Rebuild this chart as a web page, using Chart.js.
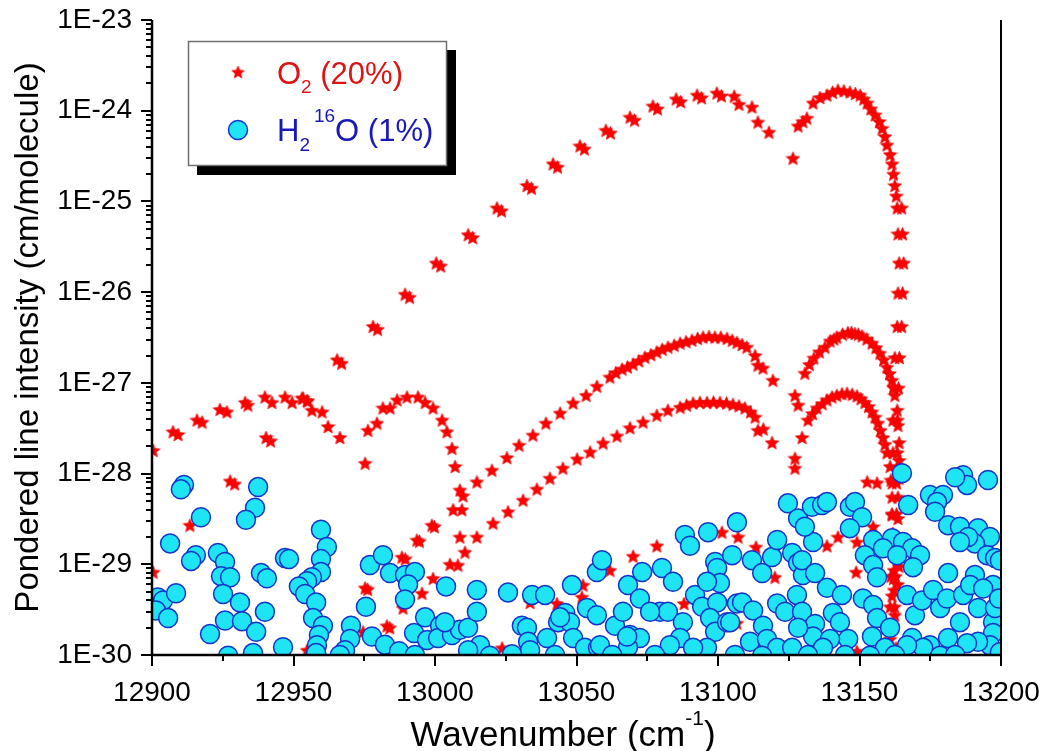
<!DOCTYPE html>
<html>
<head>
<meta charset="utf-8">
<script src="https://cdn.jsdelivr.net/npm/chart.js@4.4.1/dist/chart.umd.min.js"></script>
<style>
html,body{margin:0;padding:0;background:#fff;}
canvas{display:block;}
</style>
</head>
<body>
<canvas id="c" width="1042" height="751"></canvas>
<script>
// ---------------- DATA (wavenumber cm^-1, intensity cm/molecule) ----------------
const xMajorTicks = [12900, 12950, 13000, 13050, 13100, 13150, 13200];
const xMinorTicks = [12925, 12975, 13025, 13075, 13125, 13175];
const yDecades = [1e-30, 1e-29, 1e-28, 1e-27, 1e-26, 1e-25, 1e-24, 1e-23];
const yTickLabels = ['1E-30', '1E-29', '1E-28', '1E-27', '1E-26', '1E-25', '1E-24', '1E-23'];

// O2 main band, P branch
const o2MainP = [[12900.4,8.2e-30],[12913.4,2.7e-29],[12927.6,8.3e-29],[12929.2,7.7e-29],[12940.3,2.5e-28],[12941.9,2.3e-28],[12953.4,6.8e-28],[12955.0,6.3e-28],[12965.4,1.8e-27],[12967.0,1.65e-27],[12978.1,4.2e-27],[12979.7,3.9e-27],[12989.4,9.5e-27],[12991.0,8.8e-27],[13000.4,2.1e-26],[13002.0,1.95e-26],[13011.7,4.3e-26],[13013.3,4.0e-26],[13021.9,8.5e-26],[13023.5,7.9e-26],[13032.5,1.5e-25],[13034.1,1.4e-25],[13041.7,2.6e-25],[13043.3,2.4e-25],[13051.2,4.1e-25],[13052.8,3.8e-25],[13060.4,6.1e-25],[13062.0,5.7e-25],[13068.9,8.5e-25],[13070.5,7.9e-25],[13077.0,1.13e-24],[13078.6,1.05e-24],[13085.2,1.35e-24],[13086.8,1.26e-24],[13092.6,1.49e-24],[13094.2,1.39e-24],[13099.6,1.57e-24],[13101.2,1.46e-24],[13105.7,1.45e-24],[13107.4,1.18e-24],[13112.0,1.1e-24],[13114.1,7.5e-25],[13118.0,5.8e-25]];
// O2 main band, R branch
const o2MainR = [[13126.5,3.0e-25],[13128.3,6.8e-25],[13130.0,7.6e-25],[13131.4,8.3e-25],[13133.6,1.22e-24],[13136.0,1.4e-24],[13138.5,1.49e-24],[13140.5,1.6e-24],[13142.4,1.69e-24],[13144.5,1.66e-24],[13146.6,1.61e-24],[13148.5,1.55e-24],[13150.2,1.49e-24],[13151.5,1.35e-24],[13152.7,1.22e-24],[13154.0,1.05e-24],[13155.5,9.0e-25],[13157.0,7.6e-25],[13158.0,6.4e-25],[13159.0,5.2e-25],[13159.7,4.2e-25],[13160.8,3.3e-25],[13161.5,2.6e-25],[13162.0,2.0e-25],[13162.5,1.5e-25],[13163.0,1.15e-25],[13163.3,8.5e-26],[13164.9,8.5e-26],[13163.6,4.4e-26],[13165.2,4.4e-26],[13164.0,2.1e-26],[13165.6,2.1e-26],[13163.6,9.8e-27],[13165.2,9.8e-27],[13163.3,4.2e-27],[13164.9,4.2e-27],[13162.5,1.9e-27],[13164.1,1.9e-27],[13162.2,8.8e-28],[13163.8,8.8e-28],[13161.8,3.9e-28],[13163.4,3.9e-28],[13161.8,1.7e-28],[13163.4,1.7e-28],[13161.5,7.9e-29],[13163.1,7.9e-29],[13161.5,3.6e-29],[13163.1,3.6e-29],[13161.1,1.6e-29],[13162.7,1.6e-29],[13161.1,7.4e-30],[13162.7,7.4e-30],[13160.8,3.4e-30],[13162.4,3.4e-30],[13160.8,1.5e-30]];
// second series (P and R)
const o2SecondP = [[13009.9,5.7e-29],[13014.8,8.1e-29],[13020.1,1.09e-28],[13025.4,1.5e-28],[13029.7,2.06e-28],[13034.6,2.66e-28],[13039.2,3.6e-28],[13044.2,4.65e-28],[13048.8,6.0e-28],[13053.4,7.3e-28],[13057.2,9.2e-28],[13061.8,1.16e-27],[13063.9,1.3e-27],[13066.1,1.42e-27],[13068.0,1.5e-27],[13070.0,1.61e-27],[13072.0,1.75e-27],[13074.2,1.92e-27],[13076.3,2.05e-27],[13078.4,2.19e-27],[13080.3,2.35e-27],[13082.3,2.48e-27],[13084.5,2.6e-27],[13086.6,2.75e-27],[13088.7,2.85e-27],[13090.8,2.96e-27],[13092.8,3.1e-27],[13094.7,3.2e-27],[13096.8,3.25e-27],[13098.9,3.2e-27],[13101.0,3.2e-27],[13103.2,3.1e-27],[13105.0,2.95e-27],[13106.7,2.8e-27],[13108.5,2.65e-27],[13110.2,2.48e-27],[13113.1,2.0e-27],[13114.1,1.57e-27],[13115.9,1.46e-27],[13119.4,1.07e-27]];
const o2SecondR = [[13127.2,7.3e-28],[13128.3,5.7e-28],[13130.7,1.28e-27],[13132.3,1.6e-27],[13133.9,1.88e-27],[13135.8,2.2e-27],[13137.8,2.48e-27],[13139.6,2.9e-27],[13141.0,3.05e-27],[13142.0,3.2e-27],[13144.0,3.45e-27],[13145.9,3.6e-27],[13147.2,3.6e-27],[13148.4,3.5e-27],[13149.6,3.45e-27],[13150.9,3.3e-27],[13152.6,3.05e-27],[13154.4,2.75e-27],[13155.8,2.45e-27],[13157.2,2.13e-27],[13158.5,1.8e-27],[13159.7,1.49e-27],[13160.6,1.27e-27],[13161.5,1.07e-27],[13162.0,9.0e-28],[13162.5,7.3e-28],[13163.3,5.0e-28],[13163.6,3.4e-28],[13164.0,2.2e-28],[13164.0,1.4e-28],[13164.0,8.9e-29],[13163.6,5.5e-29],[13163.6,3.2e-29],[13163.3,1.85e-29]];
// third series (P and R)
const o2ThirdP = [[13010.6,1.36e-29],[13014.8,2.0e-29],[13020.5,2.84e-29],[13025.8,3.8e-29],[13031.1,5.1e-29],[13036.0,6.75e-29],[13040.6,8.9e-29],[13045.2,1.15e-28],[13050.2,1.45e-28],[13054.8,1.73e-28],[13059.4,2.17e-28],[13064.3,2.6e-28],[13068.9,3.2e-28],[13073.5,3.7e-28],[13078.4,4.4e-28],[13082.3,5.0e-28],[13086.6,5.4e-28],[13088.9,5.7e-28],[13091.2,6.0e-28],[13093.6,6.1e-28],[13096.1,6.1e-28],[13098.4,6.15e-28],[13100.7,6.1e-28],[13103.0,6.0e-28],[13105.3,5.8e-28],[13107.4,5.6e-28],[13109.5,5.3e-28],[13111.5,4.8e-28],[13113.1,4.2e-28],[13114.1,3.0e-28],[13116.0,3.1e-28],[13119.1,2.2e-28]];
const o2ThirdR = [[13127.2,1.48e-28],[13127.2,1.15e-28],[13129.7,2.5e-28],[13131.8,3.9e-28],[13133.4,4.6e-28],[13135.0,5.3e-28],[13136.8,5.9e-28],[13138.5,6.5e-28],[13140.3,7.0e-28],[13142.0,7.3e-28],[13143.8,7.6e-28],[13145.6,7.7e-28],[13147.4,7.5e-28],[13149.1,7.2e-28],[13150.5,6.7e-28],[13151.9,6.1e-28],[13153.2,5.5e-28],[13154.4,4.8e-28],[13155.5,4.2e-28],[13156.5,3.6e-28],[13157.4,3.0e-28],[13158.3,2.5e-28],[13159.0,2.1e-28],[13159.7,1.7e-28],[13160.8,1.2e-28],[13161.1,8.5e-29],[13161.5,5.5e-29],[13161.5,3.5e-29],[13161.8,2.2e-29],[13161.8,1.4e-29],[13162.2,8.6e-30],[13162.2,5.2e-30],[13162.5,2.75e-30],[13162.9,1.2e-30]];
// arcs at low wavenumber
const o2Arcs = [[12900.4,1.8e-28],[12907.4,2.9e-28],[12909.2,2.7e-28],[12915.9,3.9e-28],[12917.7,3.7e-28],[12924.0,5.1e-28],[12926.5,4.8e-28],[12932.9,6.1e-28],[12933.9,5.7e-28],[12939.9,7.0e-28],[12942.4,6.1e-28],[12947.0,7.0e-28],[12949.5,6.1e-28],[12953.0,6.8e-28],[12954.8,6.4e-28],[12956.5,5.0e-28],[12960.1,4.8e-28],[12962.2,3.3e-28],[12966.4,2.5e-28],[12975.3,1.3e-28],[12976.3,3.0e-28],[12979.5,3.6e-28],[12981.6,5.3e-28],[12984.1,5.3e-28],[12986.6,6.5e-28],[12990.1,7.0e-28],[12994.0,7.0e-28],[12996.5,6.1e-28],[12999.3,5.3e-28],[13002.5,3.9e-28],[13004.2,2.9e-28],[13006.0,1.9e-28],[13007.1,1.2e-28],[13008.8,6.6e-29],[13006.4,4.0e-29],[13009.5,4.0e-29],[13008.8,2.0e-29],[13005.3,1.0e-29],[13008.1,9.8e-30]];
// weak scattered O2 lines
const o2Weak = [[12954.8,1.13e-30],[12974.6,1.8e-30],[12975.3,5.5e-30],[12976.2,5.3e-30],[12983.0,2.1e-30],[12984.0,2.0e-30],[12988.3,1.2e-29],[12989.5,1.15e-29],[12988.7,3.3e-30],[12993.6,1.85e-29],[12994.5,1.8e-29],[12995.4,4.8e-30],[12998.9,2.7e-29],[12999.8,2.6e-29],[12999.3,7.0e-30],[13023.7,1.2e-30],[13033.6,3.8e-30],[13043.1,3.7e-30],[13051.9,4.35e-30],[13052.3,5.9e-30],[13061.8,8.6e-30],[13070.0,1.23e-29],[13078.4,1.6e-29],[13088.0,3.7e-30],[13101.4,2.26e-29],[13107.1,2.0e-29],[13106.7,2.25e-30],[13113.4,1.55e-29],[13120.1,7.2e-30],[13138.5,1.6e-29],[13142.4,2.0e-29],[13149.1,1.76e-29],[13154.8,2.6e-29],[13148.8,8.2e-30],[13164.3,1.07e-30],[13149.1,1.1e-30],[13152.7,8.1e-29],[13156.2,7.9e-29],[13162.0,7.0e-30],[13163.5,6.0e-30],[13161.5,4.5e-30],[13164.0,9.5e-30]];

// H2 16O lines
const h2oLow = [[12911.3,7.5e-29],[12910.2,6.7e-29],[12937.5,7.1e-29],[12936.4,4.2e-29],[12933.2,3.1e-29],[12917.3,3.3e-29],[12906.4,1.7e-29],[12915.5,1.26e-29],[12913.8,1.09e-29],[12923.3,1.33e-29],[12925.8,1.06e-29],[12924.4,7.4e-30],[12927.6,7.2e-30],[12947.0,1.17e-29],[12948.4,1.14e-29],[12959.7,2.4e-29],[12961.8,1.55e-29],[12959.7,1.14e-29],[12959.7,8.2e-30],[12956.5,7.2e-30],[12954.8,6.5e-30],[12951.9,5.7e-30],[12954.1,4.7e-30],[12958.0,3.8e-30],[12956.9,2.55e-30],[12960.4,2.1e-30],[12959.0,1.66e-30],[12958.3,1.28e-30],[12958.0,1.05e-30],[12938.5,8.0e-30],[12940.6,7.0e-30],[12902.1,4.3e-30],[12903.9,4.0e-30],[12908.5,4.8e-30],[12901.4,3.1e-30],[12905.7,2.55e-30],[12925.1,4.7e-30],[12931.1,3.8e-30],[12925.8,2.4e-30],[12931.8,2.36e-30],[12920.5,1.7e-30],[12936.8,1.8e-30],[12939.9,3.0e-30],[12935.7,1.05e-30],[12946.3,1.22e-30],[12970.3,2.1e-30],[12970.0,1.5e-30],[12968.2,1.13e-30],[12977.0,9.8e-30],[12981.6,1.26e-29],[12984.1,8.0e-30],[12989.4,7.6e-30],[12992.9,8.2e-30],[12990.5,6.0e-30],[12989.4,4.1e-30],[12975.6,3.4e-30],[12977.7,1.6e-30],[12982.3,1.3e-30],[12987.3,1.1e-30],[12992.6,1.75e-30],[12996.5,2.6e-30],[12997.2,1.46e-30],[12926.9,9.8e-31],[12966.4,1.0e-30],[12992.9,1.0e-30]];
const h2oMid = [[13001.8,2.1e-30],[13001.1,1.54e-30],[13003.9,5.7e-30],[13006.0,1.66e-30],[13008.8,1.9e-30],[13003.5,2.3e-30],[13011.7,2.0e-30],[13014.8,3.0e-30],[13014.8,5.2e-30],[13015.9,1.28e-30],[13011.7,1.13e-30],[13025.8,4.9e-30],[13034.3,4.6e-30],[13038.9,4.6e-30],[13030.7,2.1e-30],[13032.5,2.0e-30],[13032.9,1.4e-30],[13033.6,1.13e-30],[13039.6,1.54e-30],[13043.5,2.3e-30],[13046.0,2.9e-30],[13047.7,2.3e-30],[13048.8,1.54e-30],[13053.0,1.2e-30],[13048.4,5.9e-30],[13053.7,3.3e-30],[13057.2,2.75e-30],[13057.2,8.2e-30],[13059.0,1.11e-29],[13057.6,1.2e-30],[13063.6,2.1e-30],[13066.4,3.0e-30],[13068.2,5.9e-30],[13073.2,8.2e-30],[13072.4,4.2e-30],[13068.9,1.66e-30],[13072.4,1.54e-30],[13068.2,1.22e-30],[13080.2,9.1e-30],[13084.1,6.4e-30],[13079.5,3.0e-30],[13082.3,3.0e-30],[13087.6,2.3e-30],[13086.6,1.54e-30],[13083.0,1.28e-30],[13088.3,2.1e-29],[13090.1,1.6e-29],[13096.5,2.26e-29],[13091.9,4.6e-30],[13094.4,3.4e-30],[13099.0,1.06e-29],[13099.7,9.1e-30],[13100.7,6.2e-30],[13099.7,3.8e-30],[13096.1,6.4e-30],[13097.2,2.55e-30],[13099.0,1.8e-30],[13103.2,2.3e-30],[13105.0,1.26e-29],[13106.7,2.9e-29],[13106.7,3.7e-30],[13096.1,1.2e-30],[13091.2,1.2e-30],[13044.2,2.6e-30],[13058.3,1.28e-30],[13067.9,1.6e-30],[13076.0,3.0e-30],[13112.0,1.11e-29],[13019.4,9.8e-31],[13027.2,1.02e-30],[13042.4,1.0e-30],[13062.6,1.0e-30],[13077.7,1.0e-30],[13106.0,1.0e-30]];
const h2oHigh = [[13165.0,1.01e-28],[13167.2,4.5e-29],[13124.7,4.7e-29],[13128.3,3.2e-29],[13133.2,4.3e-29],[13136.8,4.5e-29],[13138.5,4.85e-29],[13146.6,4.3e-29],[13148.4,4.85e-29],[13150.9,3.3e-29],[13146.6,2.5e-29],[13115.6,8.0e-30],[13119.1,1.2e-29],[13120.9,1.85e-29],[13126.2,1.33e-29],[13128.3,1.03e-29],[13130.0,7.6e-30],[13129.7,1.11e-29],[13133.6,1.76e-29],[13134.3,8.0e-30],[13130.7,2.6e-29],[13154.8,1.85e-29],[13161.5,1.94e-29],[13158.3,1.5e-29],[13165.4,1.76e-29],[13168.6,1.5e-29],[13171.4,1.26e-29],[13168.9,9.3e-30],[13163.3,1.26e-29],[13151.9,1.26e-29],[13154.8,9.8e-30],[13156.2,7.2e-30],[13174.9,5.8e-29],[13179.5,5.8e-29],[13181.3,2.7e-29],[13185.5,2.6e-29],[13186.6,9.6e-29],[13188.0,7.5e-29],[13183.8,9.1e-29],[13195.4,8.5e-29],[13177.4,4.85e-29],[13176.7,3.8e-29],[13191.9,2.5e-29],[13196.1,2.0e-29],[13190.8,1.7e-29],[13195.1,1.26e-29],[13197.9,1.17e-29],[13188.4,2.0e-29],[13185.5,1.76e-29],[13181.3,8.0e-30],[13190.8,7.6e-30],[13197.2,5.9e-30],[13108.5,3.8e-30],[13112.4,3.1e-30],[13115.9,2.1e-30],[13120.9,3.7e-30],[13123.7,3.0e-30],[13127.9,4.6e-30],[13129.7,3.0e-30],[13134.3,2.2e-30],[13133.6,1.6e-30],[13138.5,5.5e-30],[13143.8,4.6e-30],[13140.6,2.9e-30],[13143.1,2.3e-30],[13146.0,1.5e-30],[13139.6,1.5e-30],[13151.2,4.2e-30],[13154.8,3.55e-30],[13156.2,2.55e-30],[13154.4,1.6e-30],[13159.0,1.2e-30],[13160.8,2.0e-30],[13166.8,4.6e-30],[13168.6,1.54e-30],[13169.6,2.75e-30],[13172.1,4.0e-30],[13176.0,5.2e-30],[13178.5,3.3e-30],[13180.9,4.2e-30],[13181.3,1.54e-30],[13174.9,1.28e-30],[13185.5,2.3e-30],[13186.6,4.6e-30],[13189.1,5.9e-30],[13191.9,3.3e-30],[13193.7,5.4e-30],[13197.2,2.3e-30],[13197.2,1.75e-30],[13197.9,3.3e-30],[13196.1,1.28e-30],[13191.9,1.4e-30],[13188.0,1.35e-30],[13172.5,1.2e-30],[13166.8,1.28e-30],[13104.3,2.3e-30],[13111.3,1.4e-30],[13117.3,1.5e-30],[13120.9,1.2e-30],[13126.2,1.2e-30],[13128.3,2.0e-30],[13137.1,1.2e-30],[13115.6,9.8e-31],[13131.8,1.0e-30],[13144.9,1.0e-30],[13153.7,9.8e-31],[13162.5,1.0e-30],[13178.5,9.8e-31],[13183.8,1.0e-30],[13199.6,1.07e-30],[13199.3,4.2e-30],[13199.6,1.1e-29]];

// ---------------- STYLE ----------------
const TICK_FONT = '"Liberation Sans Narrow", "Arial Narrow", "Liberation Sans", Arial, sans-serif';
const TEXT_FONT = '"Liberation Sans", Arial, Helvetica, sans-serif';
const STAR_RED = '#ff0000';
const CYAN = '#1ee4f4';
const CIRCLE_EDGE = '#1434c8';

function makeStar(size, color) {
  const c = document.createElement('canvas');
  c.width = size; c.height = size;
  const g = c.getContext('2d');
  const cx = size / 2, cy = size / 2 + 0.7, R = size / 2 - 0.3, r = R * 0.45;
  g.beginPath();
  for (let i = 0; i < 10; i++) {
    const a = -Math.PI / 2 + i * Math.PI / 5;
    const rad = (i % 2 === 0) ? R : r;
    g.lineTo(cx + rad * Math.cos(a), cy + rad * Math.sin(a));
  }
  g.closePath();
  g.fillStyle = color;
  g.fill();
  g.strokeStyle = '#e00000';
  g.lineWidth = 0.6;
  g.stroke();
  return c;
}
const starImg = makeStar(15, STAR_RED);

const toPts = arr => arr.map(p => ({x: p[0], y: p[1]}));
const o2Data = [].concat(toPts(o2MainP), toPts(o2MainR), toPts(o2SecondP), toPts(o2SecondR),
                         toPts(o2ThirdP), toPts(o2ThirdR), toPts(o2Arcs), toPts(o2Weak));
const h2oData = [].concat(toPts(h2oLow), toPts(h2oMid), toPts(h2oHigh));

function drawRich(ctx, x, y, parts, color) {
  ctx.fillStyle = color;
  ctx.textAlign = 'left';
  ctx.textBaseline = 'alphabetic';
  let cx = x;
  for (const p of parts) {
    ctx.font = p.size + 'px ' + TEXT_FONT;
    ctx.fillText(p.t, cx, y + (p.dy || 0));
    cx += ctx.measureText(p.t).width + (p.gap || 0);
  }
  return cx - x;
}
function richWidth(ctx, parts) {
  let w = 0;
  for (const p of parts) { ctx.font = p.size + 'px ' + TEXT_FONT; w += ctx.measureText(p.t).width + (p.gap || 0); }
  return w;
}

const decorPlugin = {
  id: 'decor',
  afterDraw(chart) {
    const ctx = chart.ctx;
    const a = chart.chartArea;
    const xs = chart.scales.x, ys = chart.scales.y;
    ctx.save();
    // axis lines
    ctx.strokeStyle = '#000';
    ctx.lineCap = 'butt';
    ctx.lineWidth = 2.5;
    ctx.beginPath();
    ctx.moveTo(a.left, a.top); ctx.lineTo(a.left, a.bottom + 1.25);
    ctx.moveTo(a.left - 1.25, a.bottom); ctx.lineTo(a.right + 1, a.bottom);
    ctx.stroke();
    ctx.lineWidth = 2;
    ctx.beginPath();
    ctx.moveTo(a.right, a.top); ctx.lineTo(a.right, a.bottom);
    ctx.stroke();
    // tick marks
    ctx.lineWidth = 2;
    ctx.beginPath();
    for (const v of xMajorTicks) { const px = Math.round(xs.getPixelForValue(v)); ctx.moveTo(px, a.bottom); ctx.lineTo(px, a.bottom + 11); }
    for (const v of xMinorTicks) { const px = Math.round(xs.getPixelForValue(v)); ctx.moveTo(px, a.bottom); ctx.lineTo(px, a.bottom + 6); }
    for (const d of yDecades) {
      const py = Math.round(ys.getPixelForValue(d));
      ctx.moveTo(a.left, py); ctx.lineTo(a.left - 11, py);
      if (d < 1e-23) {
        for (let k = 2; k <= 9; k++) {
          const pm = Math.round(ys.getPixelForValue(d * k));
          ctx.moveTo(a.left, pm); ctx.lineTo(a.left - 6, pm);
        }
      }
    }
    ctx.stroke();

    // legend box
    const bx = 188, by = 41, bw = 259, bh = 125;
    ctx.fillStyle = '#000';
    ctx.fillRect(bx + 9, by + 9, bw, bh);
    ctx.fillStyle = '#fff';
    ctx.fillRect(bx, by, bw, bh);
    ctx.strokeStyle = '#707070';
    ctx.lineWidth = 1.5;
    ctx.strokeRect(bx + 0.5, by + 0.5, bw - 1, bh - 1);
    // legend markers
    ctx.drawImage(starImg, 238 - 7, 72 - 7, 14, 14);
    ctx.beginPath();
    ctx.arc(238, 130, 9.5, 0, Math.PI * 2);
    ctx.fillStyle = CYAN; ctx.fill();
    ctx.strokeStyle = CIRCLE_EDGE; ctx.lineWidth = 1.5; ctx.stroke();
    // legend texts
    drawRich(ctx, 277, 84, [
      {t: 'O', size: 31}, {t: '2', size: 19, dy: 9}, {t: ' (20%)', size: 31}
    ], '#dd1414');
    drawRich(ctx, 277, 141, [
      {t: 'H', size: 31}, {t: '2', size: 19, dy: 10, gap: 4}, {t: '16', size: 19, dy: -19}, {t: 'O (1%)', size: 31}
    ], '#1818b8');

    // axis titles
    const xParts = [{t: 'Wavenumber (cm', size: 35}, {t: '-1', size: 21, dy: -21}, {t: ')', size: 35}];
    const w = richWidth(ctx, xParts);
    drawRich(ctx, 563 - w / 2, 746, xParts, '#000');

    ctx.translate(38, (a.top + a.bottom) / 2);
    ctx.rotate(-Math.PI / 2);
    ctx.font = '33px ' + TEXT_FONT;
    ctx.fillStyle = '#000';
    ctx.textAlign = 'center';
    ctx.textBaseline = 'alphabetic';
    ctx.fillText('Pondered line intensity (cm/molecule)', 0, 0);
    ctx.restore();
  }
};

new Chart(document.getElementById('c'), {
  type: 'scatter',
  data: {
    datasets: [
      {
        label: 'H2 16O (1%)',
        data: h2oData,
        pointStyle: 'circle',
        pointRadius: 9.5,
        backgroundColor: CYAN,
        borderColor: CIRCLE_EDGE,
        borderWidth: 1.5,
        showLine: false,
        clip: 0,
        order: 0
      },
      {
        label: 'O2 (20%)',
        data: o2Data,
        pointStyle: starImg,
        pointRadius: 7,
        backgroundColor: STAR_RED,
        borderColor: STAR_RED,
        showLine: false,
        clip: 0,
        order: 1
      }
    ]
  },
  options: {
    responsive: false,
    devicePixelRatio: 1,
    animation: false,
    events: [],
    layout: { padding: { top: 20, right: 41, left: 0, bottom: 0 } },
    plugins: { legend: { display: false }, tooltip: { enabled: false } },
    scales: {
      x: {
        type: 'linear',
        position: 'bottom',
        min: 12900, max: 13200,
        afterBuildTicks: s => { s.ticks = xMajorTicks.map(v => ({value: v})); },
        afterFit: s => { s.height = 96; s.paddingLeft = 0; s.paddingRight = 0; },
        grid: { display: false },
        border: { display: false },
        ticks: {
          autoSkip: false, maxRotation: 0, minRotation: 0,
          color: '#000',
          padding: 13,
          font: { family: TICK_FONT, size: 28 },
          callback: v => String(v)
        }
      },
      y: {
        type: 'logarithmic',
        position: 'left',
        min: 1e-30, max: 1e-23,
        afterBuildTicks: s => { s.ticks = yDecades.map(v => ({value: v})); },
        afterFit: s => { s.width = 152; s.paddingTop = 0; s.paddingBottom = 0; },
        grid: { display: false },
        border: { display: false },
        ticks: {
          autoSkip: false,
          color: '#000',
          padding: 12,
          font: { family: TICK_FONT, size: 28 },
          callback: (v, i) => yTickLabels[i]
        }
      }
    }
  },
  plugins: [decorPlugin]
});
</script>
</body>
</html>
